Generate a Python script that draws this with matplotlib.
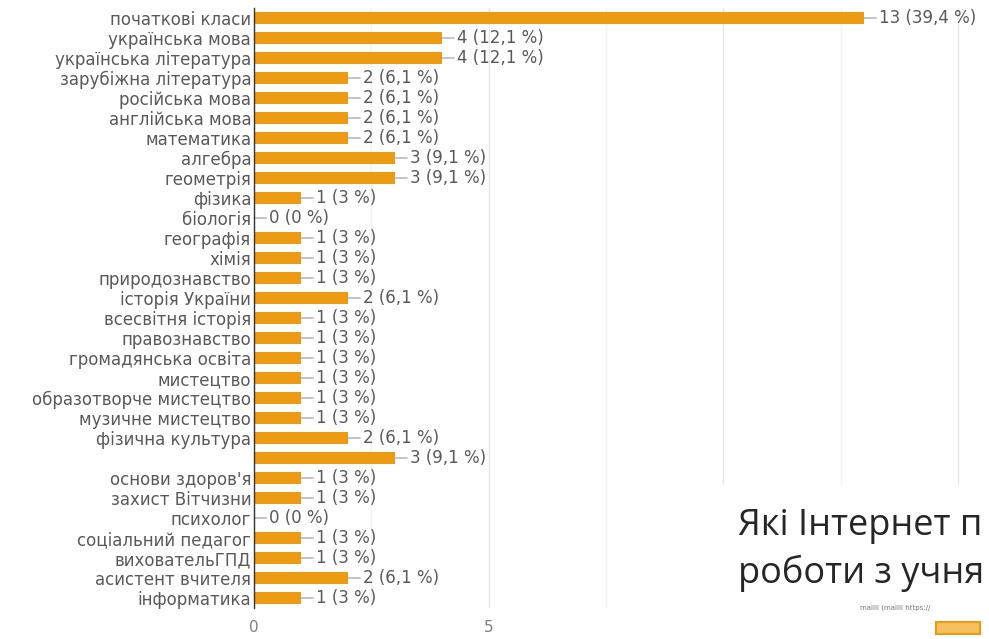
import matplotlib.pyplot as plt
from matplotlib.patches import Rectangle
from matplotlib.ticker import MultipleLocator

subjects = ['початкові класи', 'українська мова', 'українська література',
            'зарубіжна література', 'російська мова', 'англійська мова',
            'математика', 'алгебра', 'геометрія', 'фізика', 'біологія',
            'географія', 'хімія', 'природознавство', 'історія України',
            'всесвітня історія', 'правознавство', 'громадянська освіта',
            'мистецтво', 'образотворче мистецтво', 'музичне мистецтво',
            'фізична культура', '', "основи здоров'я", 'захист Вітчизни',
            'психолог', 'соціальний педагог', 'виховательГПД',
            'асистент вчителя', 'інформатика']
counts = [13, 4, 4, 2, 2, 2, 2, 3, 3, 1, 0, 1, 1, 1, 2, 1, 1, 1, 1, 1, 1,
          2, 3, 1, 1, 0, 1, 1, 2, 1]
percents = ['39,4', '12,1', '12,1', '6,1', '6,1', '6,1', '6,1', '9,1', '9,1',
            '3', '0', '3', '3', '3', '6,1', '3', '3', '3', '3', '3', '3',
            '6,1', '9,1', '3', '3', '0', '3', '3', '6,1', '3']
x_ticks = [0, 5, 10, 15]

bar_color = '#ee9b14'
text_grey = '#595959'

plt.rcParams['font.family'] = ['DejaVu Sans']

fig = plt.figure(figsize=(9.89, 6.39), dpi=100)
ax = fig.add_axes([254/989, 1 - 608/639, 732/989, 600/639])

y = list(range(len(subjects)))
ax.barh(y, counts, height=0.58, color=bar_color, zorder=3)

for yi, c, p in zip(y, counts, percents):
    ax.annotate('%d (%s %%)' % (c, p), xy=(c, yi), xytext=(11, 0),
                textcoords='offset points', va='center', ha='left',
                fontsize=12, color=text_grey,
                arrowprops=dict(arrowstyle='-', color='#999999', lw=0.8,
                                shrinkA=0, shrinkB=0))

ax.set_ylim(len(subjects) - 0.5, -0.5)
ax.set_xlim(0, 15.6)
ax.set_yticks(y)
ax.set_yticklabels(subjects, fontsize=12, color=text_grey)
ax.set_xticks(x_ticks)
ax.set_xticklabels([str(t) for t in x_ticks], fontsize=11, color='#808080')
ax.xaxis.set_minor_locator(MultipleLocator(2.5))
ax.tick_params(axis='both', which='both', length=0)
ax.tick_params(axis='y', pad=2)
ax.tick_params(axis='x', pad=9)
ax.grid(axis='x', which='major', color='#e6e6e6', lw=1, zorder=0)
ax.grid(axis='x', which='minor', color='#f2f2f2', lw=1, zorder=0)
for s in ['top', 'right', 'bottom']:
    ax.spines[s].set_visible(False)
ax.spines['left'].set_color('#333333')
ax.spines['left'].set_linewidth(1)
ax.spines['left'].set_zorder(4)

# slide overlay in the bottom right corner
fig.add_artist(Rectangle((715/989, 0), 274/989, 154/639, transform=fig.transFigure,
                         facecolor='white', edgecolor='none', zorder=5))
fig.text(738/989, 1 - 535/639, 'Які Інтернет п', fontsize=26, color='#262626',
         family='Open Sans', zorder=6)
fig.text(738/989, 1 - 583/639, 'роботи з учня', fontsize=26, color='#262626',
         family='Open Sans', zorder=6)
fig.text(930/989, 1 - 608/639, 'mailil (mailil https://', fontsize=5,
         color='#777777', ha='right', va='center', zorder=6)
fig.add_artist(Rectangle((936/989, 1 - 634/639), 44/989, 12/639,
                         transform=fig.transFigure, facecolor='#f4c060',
                         edgecolor=bar_color, lw=1.5, zorder=6))

fig.savefig('out.png', dpi=100)
